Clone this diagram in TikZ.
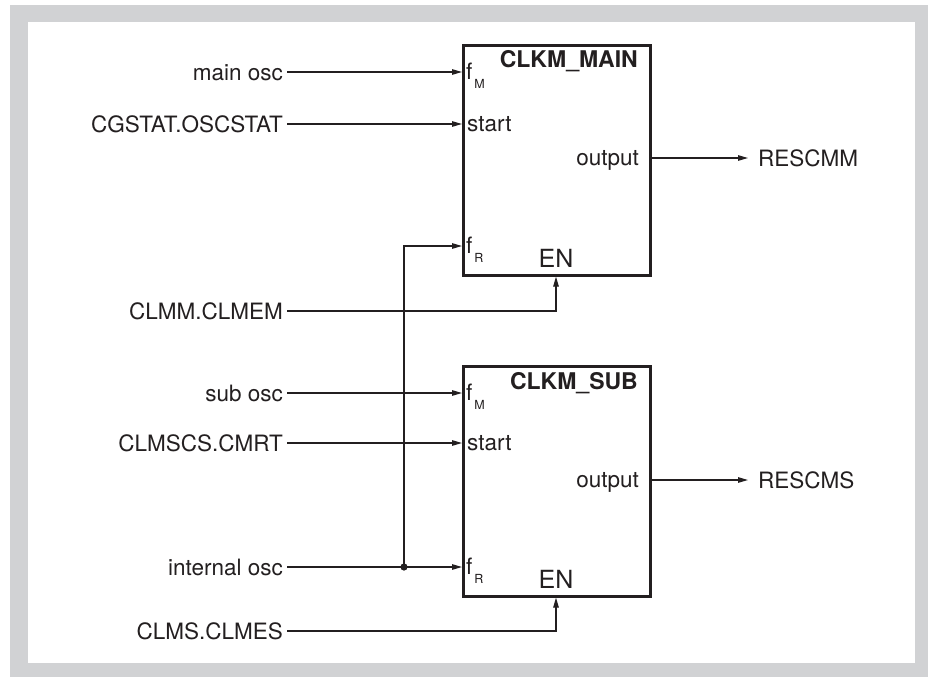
\documentclass[tikz,border=0pt]{standalone}
\usepackage{fontspec}
\setmainfont{TeX Gyre Heros}
\usetikzlibrary{arrows.meta}
\definecolor{frame}{HTML}{D1D2D4}
\definecolor{ink}{HTML}{231F20}
\tikzset{
  lbl/.style={anchor=east, inner xsep=4pt, inner ysep=0pt, text height=16pt, text depth=0pt, font=\fontsize{22.5}{24}\selectfont, text=ink},
  res/.style={anchor=west, inner xsep=10pt, inner ysep=0pt, text height=16pt, text depth=0pt, font=\fontsize{22.5}{24}\selectfont, text=ink},
  port/.style={inner sep=0pt, font=\fontsize{22.5}{24}\selectfont, text=ink},
  sub/.style={inner sep=0pt, font=\fontsize{12.5}{13}\selectfont, text=ink},
  title/.style={inner sep=0pt, anchor=base east, font=\fontsize{23}{25}\selectfont\bfseries, text=ink},
  enl/.style={inner sep=0pt, anchor=base, font=\fontsize{25}{27}\selectfont, text=ink},
  blk/.style={draw=ink, line width=2.6pt, minimum width=187pt, minimum height=230pt, inner sep=0pt, anchor=north west},
  wire/.style={draw=ink, line width=1.2pt},
  arr/.style={wire, -{Triangle[length=10pt,width=5.5pt]}},
}
\begin{document}
\begin{tikzpicture}[x=1pt,y=-1pt]
\useasboundingbox (0,0) rectangle (928,677);
\fill[frame] (10,5) rectangle (928,677);
\fill[white] (28,22) rectangle (915,663);

% blocks
\node[blk] (b1) at (462,44) {};
\node[blk] (b2) at (462,365) {};

% port coordinates
\coordinate (b1fm) at (462,72);
\coordinate (b1st) at (462,124);
\coordinate (b1fr) at (462,246);
\coordinate (b1out) at (649,158);
\coordinate (b2fm) at (462,393);
\coordinate (b2st) at (462,443);
\coordinate (b2fr) at (462,567);
\coordinate (b2out) at (649,480);

% block texts
\node[title] (t1) at (638,67) {CLKM\_MAIN};
\node[title] (t2) at (638,389) {CLKM\_SUB};
\node[port, anchor=base west] (f1) at (466,79) {f};
\node[sub, anchor=base west] (m1) at (f1.base east) [xshift=1.5pt, yshift=-9pt] {M};
\node[port, anchor=base west] (s1) at (467,131) {start};
\node[port, anchor=base east] (o1) at (639,165) {output};
\node[port, anchor=base west] (f1r) at (466,253) {f};
\node[sub, anchor=base west] (r1) at (f1r.base east) [xshift=1.5pt, yshift=-9pt] {R};
\node[enl] (en1) at (556,267) {EN};

\node[port, anchor=base west] (f2) at (466,400) {f};
\node[sub, anchor=base west] (m2) at (f2.base east) [xshift=1.5pt, yshift=-9pt] {M};
\node[port, anchor=base west] (s2) at (467,450) {start};
\node[port, anchor=base east] (o2) at (639,487) {output};
\node[port, anchor=base west] (f2r) at (466,574) {f};
\node[sub, anchor=base west] (r2) at (f2r.base east) [xshift=1.5pt, yshift=-9pt] {R};
\node[enl] (en2) at (556,588) {EN};

% input labels
\node[lbl] (lmain) at (287,72) {main osc};
\node[lbl] (lcg) at (287,124) {CGSTAT.OSCSTAT};
\node[lbl] (lclmm) at (287,311) {CLMM.CLMEM};
\node[lbl] (lsub) at (287,393) {sub osc};
\node[lbl] (lcmrt) at (287,443) {CLMSCS.CMRT};
\node[lbl] (lint) at (287,567) {internal osc};
\node[lbl] (lclms) at (287,631) {CLMS.CLMES};

% output labels
\node[res] (rm) at (748,158) {RESCMM};
\node[res] (rs) at (748,480) {RESCMS};

% connectors
\draw[arr] (lmain.east) -- (b1fm);
\draw[arr] (lcg.east) -- (b1st);
\draw[arr] (lclmm.east) -| (en1 |- b1.south);
\draw[arr] (lsub.east) -- (b2fm);
\draw[arr] (lcmrt.east) -- (b2st);
\draw[arr] (lint.east) -- (b2fr);
\draw[arr] (lclms.east) -| (en2 |- b2.south);
\coordinate (j) at (404,567);
\draw[arr] (j) |- (b1fr);
\fill[ink] (j) circle (3.6pt);
\draw[arr] (b1out) -- (rm.west);
\draw[arr] (b2out) -- (rs.west);
\end{tikzpicture}
\end{document}
